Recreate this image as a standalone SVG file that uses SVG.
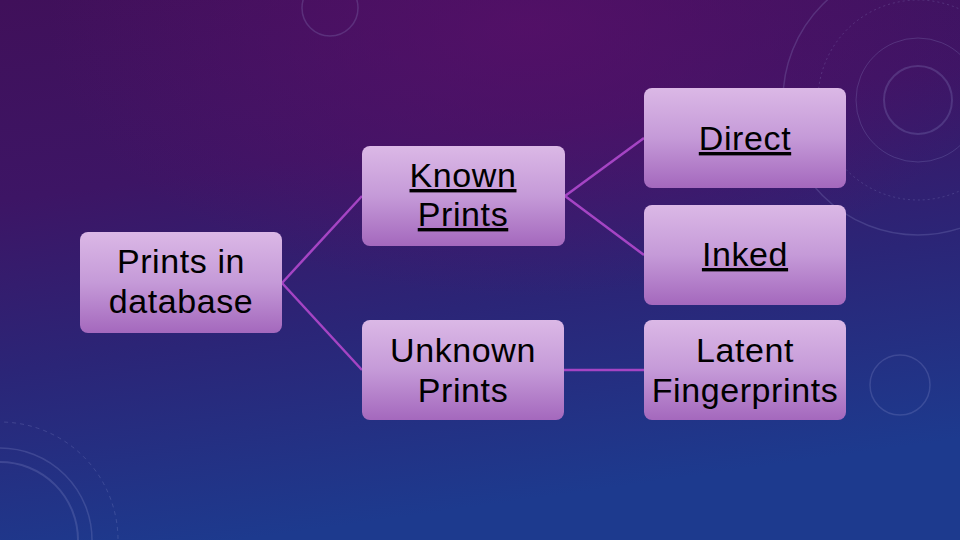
<svg xmlns="http://www.w3.org/2000/svg" width="960" height="540" viewBox="0 0 960 540">
<defs>
<linearGradient id="bg" x1="0" y1="0" x2="0.25" y2="1">
<stop offset="0" stop-color="#40105a"/>
<stop offset="0.35" stop-color="#3d1565"/>
<stop offset="0.65" stop-color="#2b2577"/>
<stop offset="1" stop-color="#1d3a8e"/>
</linearGradient>
<radialGradient id="glow" cx="0.55" cy="0.05" r="0.5">
<stop offset="0" stop-color="#5a0f6a" stop-opacity="0.7"/>
<stop offset="1" stop-color="#5a0f6a" stop-opacity="0"/>
</radialGradient>
<linearGradient id="box" x1="0" y1="0" x2="0" y2="1">
<stop offset="0" stop-color="#dbb8e6"/>
<stop offset="0.5" stop-color="#c59ad8"/>
<stop offset="1" stop-color="#a468bd"/>
</linearGradient>
<style>
.box{fill:url(#box);}
.t{font-family:"Liberation Sans",Arial,sans-serif;font-size:34px;fill:#000;text-anchor:middle;letter-spacing:0.6px;}
.u{text-decoration:underline;}
.c{stroke:#a544c4;stroke-width:2.5;fill:none;}
.d{fill:none;stroke:#9aa0d8;stroke-opacity:0.22;}
</style>
</defs>
<rect width="960" height="540" fill="url(#bg)"/>
<rect width="960" height="540" fill="url(#glow)"/>
<g id="decor">
<circle class="d" cx="330" cy="8" r="28" stroke-width="1.5"/>
<circle class="d" cx="918" cy="100" r="34" stroke-width="2"/>
<circle class="d" cx="918" cy="100" r="62" stroke-width="1"/>
<circle class="d" cx="918" cy="100" r="100" stroke-width="1" stroke-dasharray="2 3"/>
<circle class="d" cx="918" cy="100" r="135" stroke-width="1.5"/>
<circle class="d" cx="900" cy="385" r="30" stroke-width="1.5"/>
<circle class="d" cx="0" cy="540" r="78" stroke-width="2"/>
<circle class="d" cx="0" cy="540" r="92" stroke-width="1.5"/>
<circle class="d" cx="0" cy="540" r="118" stroke-width="1" stroke-dasharray="4 4"/>
</g>
<g id="connectors">
<path class="c" d="M282 283 L362 196"/>
<path class="c" d="M282 283 L362 370"/>
<path class="c" d="M565 196 L644 138"/>
<path class="c" d="M565 196 L644 255"/>
<path class="c" d="M564 370 L644 370"/>
</g>
<g id="node-database">
<rect class="box" x="80" y="232" width="202" height="101" rx="8"/>
<text class="t" x="181" y="273">Prints in</text>
<text class="t" x="181" y="313">database</text>
</g>
<g id="node-known">
<rect class="box" x="362" y="146" width="203" height="100" rx="8"/>
<text class="t u" x="463" y="187">Known</text>
<text class="t u" x="463" y="226">Prints</text>
</g>
<g id="node-unknown">
<rect class="box" x="362" y="320" width="202" height="100" rx="8"/>
<text class="t" x="463" y="362">Unknown</text>
<text class="t" x="463" y="402">Prints</text>
</g>
<g id="node-direct">
<rect class="box" x="644" y="88" width="202" height="100" rx="8"/>
<text class="t u" x="745" y="150">Direct</text>
</g>
<g id="node-inked">
<rect class="box" x="644" y="205" width="202" height="100" rx="8"/>
<text class="t u" x="745" y="266">Inked</text>
</g>
<g id="node-latent">
<rect class="box" x="644" y="320" width="202" height="100" rx="8"/>
<text class="t" x="745" y="362">Latent</text>
<text class="t" x="745" y="402">Fingerprints</text>
</g>
</svg>
